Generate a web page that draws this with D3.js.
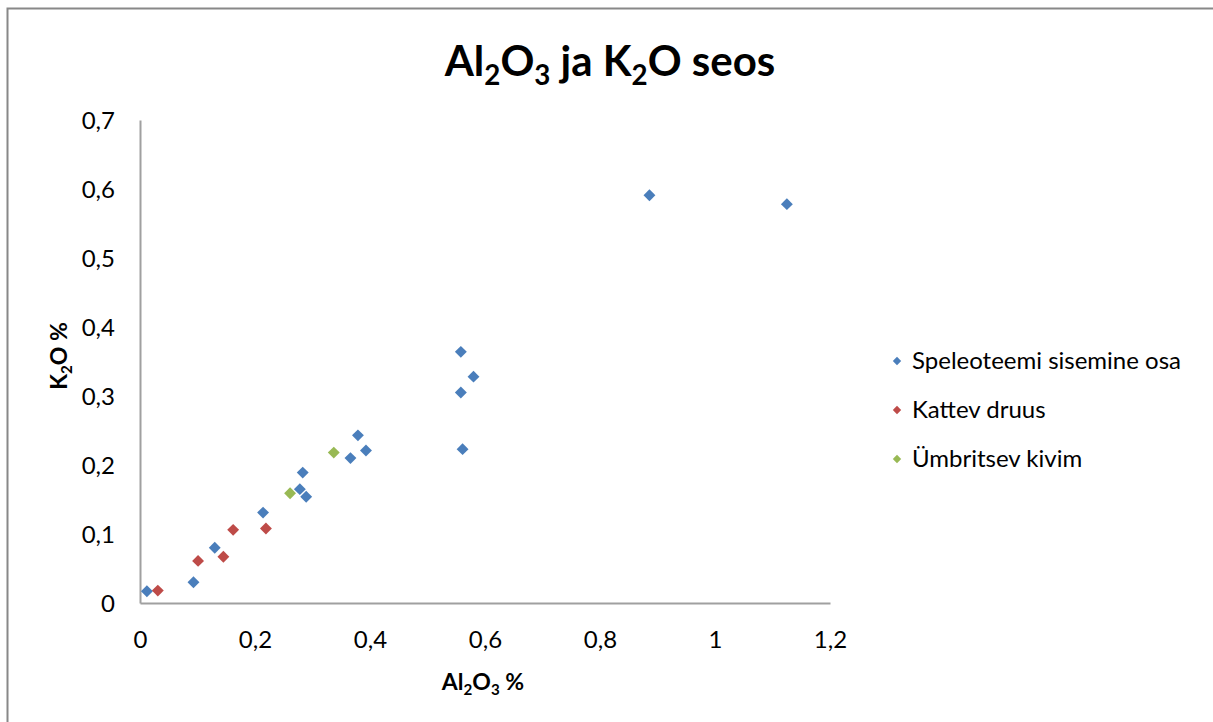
<!DOCTYPE html>
<html lang="et">
<head>
<meta charset="utf-8">
<title>Al2O3 ja K2O seos</title>
<script src="https://cdnjs.cloudflare.com/ajax/libs/d3/7.8.5/d3.min.js"></script>
<style>
  body { margin: 0; background: #fff; }
  svg text { font-family: Lato, "Open Sans", sans-serif; fill: #000; }
</style>
</head>
<body>
<svg width="1213" height="722"></svg>
<script>
// values: [Al2O3 %, K2O %]
var speleoteemX = [0.012, 0.093, 0.130, 0.214, 0.283, 0.278, 0.289, 0.379, 0.366, 0.393, 0.558, 0.580, 0.558, 0.561, 0.886, 1.125];
var speleoteemY = [0.017, 0.030, 0.080, 0.131, 0.189, 0.165, 0.154, 0.243, 0.210, 0.221, 0.364, 0.328, 0.305, 0.223, 0.591, 0.578];
var druusX = [0.031, 0.101, 0.145, 0.162, 0.219];
var druusY = [0.018, 0.061, 0.067, 0.106, 0.108];
var kivimX = [0.261, 0.337];
var kivimY = [0.159, 0.218];

var seriesNames = ["Speleoteemi sisemine osa", "Kattev druus", "Ümbritsev kivim"];
var seriesColors = ["#4a7ebb", "#be4b48", "#98b954"];
var xTicks = [0, 0.2, 0.4, 0.6, 0.8, 1, 1.2];
var yTicks = [0, 0.1, 0.2, 0.3, 0.4, 0.5, 0.6, 0.7];

var series = [
  { name: seriesNames[0], color: seriesColors[0], xs: speleoteemX, ys: speleoteemY },
  { name: seriesNames[1], color: seriesColors[1], xs: druusX, ys: druusY },
  { name: seriesNames[2], color: seriesColors[2], xs: kivimX, ys: kivimY }
];

var svg = d3.select("svg");

// outer chart border (cut off at right and bottom like the screenshot)
svg.append("rect")
  .attr("x", 7.5).attr("y", 8.5)
  .attr("width", 1240).attr("height", 740)
  .attr("fill", "none")
  .attr("stroke", "#888")
  .attr("stroke-width", 2);

var plotLeft = 140, plotRight = 830, plotTop = 120, plotBottom = 603;

var x = d3.scaleLinear().domain([0, 1.2]).range([plotLeft, plotRight]);
var y = d3.scaleLinear().domain([0, 0.7]).range([plotBottom, plotTop]);

var fmt = function(d) { return String(+d.toFixed(1)).replace(".", ","); };

// axes
var xAxis = svg.append("g")
  .attr("transform", "translate(0," + plotBottom + ")")
  .call(d3.axisBottom(x).tickValues(xTicks).tickFormat(fmt).tickSize(0).tickPadding(28));
var yAxis = svg.append("g")
  .attr("transform", "translate(" + plotLeft + ",0)")
  .call(d3.axisLeft(y).tickValues(yTicks).tickFormat(fmt).tickSize(0).tickPadding(25));

[xAxis, yAxis].forEach(function(a) {
  a.select(".domain").attr("stroke", "#a0a0a0").attr("stroke-width", 2);
  a.selectAll("text").style("font-size", "24px").attr("fill", "#000");
});
xAxis.selectAll("text").attr("dy", "0.71em");
yAxis.selectAll("text").attr("dy", "0.35em");

// text with subscripts
function subText(sel, parts, size) {
  parts.forEach(function(p) {
    if (p.sub) {
      sel.append("tspan").text(p.t).attr("dy", size * 0.22).style("font-size", (size * 0.66) + "px");
    } else {
      sel.append("tspan").text(p.t).attr("dy", p.back ? -size * 0.22 : 0);
    }
  });
}

var title = svg.append("text")
  .attr("x", 610).attr("y", 76)
  .attr("text-anchor", "middle")
  .style("font-size", "42px").style("font-weight", "bold");
subText(title, [{t: "Al"}, {t: "2", sub: true}, {t: "O", back: true}, {t: "3", sub: true},
                {t: " ja K", back: true}, {t: "2", sub: true}, {t: "O seos", back: true}], 42);

var xTitle = svg.append("text")
  .attr("x", 483).attr("y", 690)
  .attr("text-anchor", "middle")
  .style("font-size", "23px").style("font-weight", "bold");
subText(xTitle, [{t: "Al"}, {t: "2", sub: true}, {t: "O", back: true}, {t: "3", sub: true}, {t: " %", back: true}], 23);

var yTitle = svg.append("text")
  .attr("transform", "translate(67,356) rotate(-90)")
  .attr("text-anchor", "middle")
  .style("font-size", "23px").style("font-weight", "bold");
subText(yTitle, [{t: "K"}, {t: "2", sub: true}, {t: "O %", back: true}], 23);

// points
var diamond = d3.symbol().type(d3.symbolDiamond2);
series.forEach(function(s) {
  svg.append("g").selectAll("path")
    .data(s.xs.map(function(v, i) { return [v, s.ys[i]]; }))
    .enter().append("path")
    .attr("d", diamond.size(90)())
    .attr("transform", function(d) { return "translate(" + x(d[0]) + "," + y(d[1]) + ")"; })
    .attr("fill", s.color);
});

// legend
var legend = svg.append("g").selectAll("g")
  .data(series)
  .enter().append("g")
  .attr("transform", function(d, i) { return "translate(897," + (361 + i * 49) + ")"; });
legend.append("path")
  .attr("d", diamond.size(45)())
  .attr("fill", function(d) { return d.color; });
legend.append("text")
  .attr("x", 15).attr("dy", "0.35em")
  .style("font-size", "24px")
  .text(function(d) { return d.name; });
</script>
</body>
</html>
